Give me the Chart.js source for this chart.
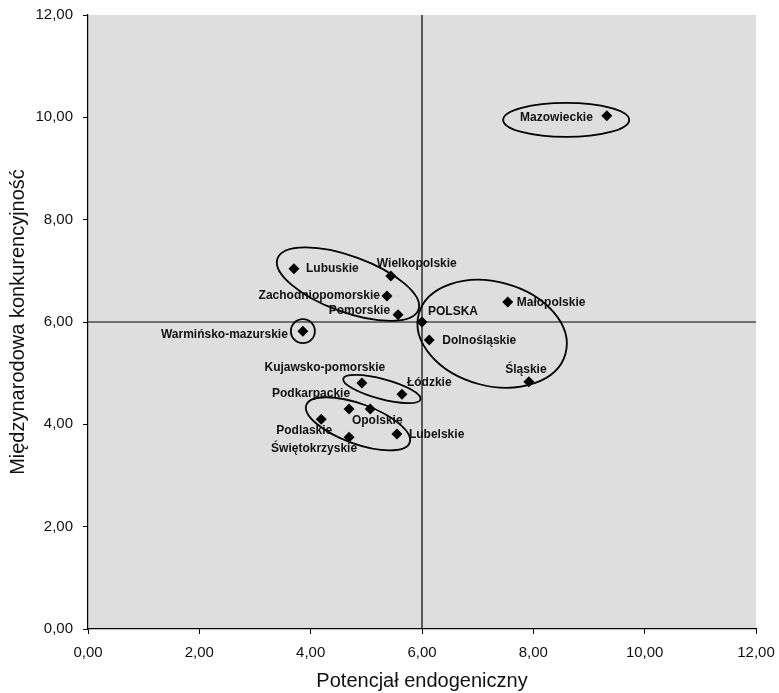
<!DOCTYPE html>
<html><head><meta charset="utf-8">
<script src="https://cdn.jsdelivr.net/npm/chart.js@4/dist/chart.umd.min.js"></script>
<style>html,body{margin:0;padding:0;background:#fff}#c{display:block}</style>
</head><body>
<canvas id="c" width="779" height="693"></canvas>
<script>
// ---- data ----
const regions = ['Mazowieckie','Lubuskie','Wielkopolskie','Zachodniopomorskie','Pomorskie','Warmińsko-mazurskie','POLSKA','Dolnośląskie','Małopolskie','Śląskie','Kujawsko-pomorskie','Łódzkie','Podkarpackie','Opolskie','Podlaskie','Świętokrzyskie','Lubelskie'];
const potencjalEndogeniczny = [9.32, 3.70, 5.44, 5.37, 5.57, 3.86, 6.00, 6.13, 7.54, 7.92, 4.92, 5.64, 4.69, 5.07, 4.19, 4.69, 5.55];
const konkurencyjnosc = [10.03, 7.04, 6.90, 6.51, 6.14, 5.82, 6.00, 5.65, 6.39, 4.83, 4.81, 4.59, 4.30, 4.30, 4.10, 3.75, 3.81];
const axisTicks = [0, 2, 4, 6, 8, 10, 12];
const dividerX = 6.00;
const dividerY = 6.00;

// ---- styles (label placement, group ellipses) ----
const labelPlacement = [
  {align:'right', dx:-14, dy:2},   // Mazowieckie
  {align:'left',  dx:12,  dy:0},   // Lubuskie
  {align:'left',  dx:-14, dy:-12}, // Wielkopolskie
  {align:'right', dx:-7,  dy:0},   // Zachodniopomorskie
  {align:'right', dx:-8,  dy:-4},  // Pomorskie
  {align:'right', dx:-15, dy:3},   // Warmińsko-mazurskie
  {align:'left',  dx:6,   dy:-10}, // POLSKA
  {align:'left',  dx:13,  dy:1},   // Dolnośląskie
  {align:'left',  dx:9,   dy:1},   // Małopolskie
  {align:'center',dx:-3,  dy:-12}, // Śląskie
  {align:'center',dx:-37, dy:-15}, // Kujawsko-pomorskie
  {align:'left',  dx:5,   dy:-11}, // Łódzkie
  {align:'right', dx:1,   dy:-15}, // Podkarpackie
  {align:'center',dx:7,   dy:12},  // Opolskie
  {align:'right', dx:11,  dy:11},  // Podlaskie
  {align:'center',dx:-35, dy:12},  // Świętokrzyskie
  {align:'left',  dx:12,  dy:1}    // Lubelskie
];
const groupEllipses = [
  {cx:8.59, cy:9.95, a:63, b:17, rot:0},
  {cx:4.67, cy:6.74, a:75, b:28, rot:20},
  {cx:3.86, cy:5.82, a:12, b:12, rot:0},
  {cx:7.26, cy:5.77, a:76, b:52, rot:15},
  {cx:5.28, cy:4.69, a:40, b:10, rot:15},
  {cx:4.85, cy:4.01, a:55, b:20, rot:20}
];

const fmt = v => Number(v).toFixed(2).replace('.', ',');
const FONT = "'Liberation Sans', Arial, sans-serif";

const bgPlugin = {
  id:'bg',
  beforeDraw(chart){
    const {ctx, chartArea:ca} = chart;
    ctx.save();
    ctx.fillStyle = '#dedede';
    ctx.fillRect(ca.left, ca.top, ca.right-ca.left, ca.bottom-ca.top);
    ctx.restore();
  },
  beforeDatasetsDraw(chart){
    const {ctx, chartArea:ca, scales} = chart;
    const px = scales.x.getPixelForValue(dividerX);
    const py = scales.y.getPixelForValue(dividerY);
    ctx.save();
    ctx.strokeStyle = '#000'; ctx.lineWidth = 1.2;
    ctx.beginPath();
    ctx.moveTo(px, ca.top); ctx.lineTo(px, ca.bottom);
    ctx.moveTo(ca.left, py); ctx.lineTo(ca.right, py);
    ctx.stroke();
    ctx.restore();
  },
  afterDatasetsDraw(chart){
    const {ctx, scales} = chart;
    ctx.save();
    ctx.strokeStyle = '#000'; ctx.lineWidth = 1.8;
    groupEllipses.forEach(e => {
      const x = scales.x.getPixelForValue(e.cx), y = scales.y.getPixelForValue(e.cy);
      ctx.beginPath();
      ctx.ellipse(x, y, e.a, e.b, e.rot*Math.PI/180, 0, Math.PI*2);
      ctx.stroke();
    });
    ctx.fillStyle = '#111';
    ctx.font = 'bold 12px ' + FONT;
    ctx.textBaseline = 'middle';
    regions.forEach((name, i) => {
      const x = scales.x.getPixelForValue(potencjalEndogeniczny[i]);
      const y = scales.y.getPixelForValue(konkurencyjnosc[i]);
      const p = labelPlacement[i];
      ctx.textAlign = p.align;
      ctx.fillText(name, x + p.dx, y + p.dy);
    });
    ctx.restore();
  }
};

new Chart(document.getElementById('c'), {
  type:'scatter',
  data:{
    datasets:[{
      label:'Województwa',
      data: regions.map((r,i) => ({x:potencjalEndogeniczny[i], y:konkurencyjnosc[i]})),
      pointStyle:'rectRot',
      pointRadius:5.5,
      pointHoverRadius:5.5,
      backgroundColor:'#000',
      borderColor:'#000',
      borderWidth:0
    }]
  },
  options:{
    responsive:false,
    animation:false,
    layout:{autoPadding:false, padding:{left:6, right:23, top:15, bottom:0}},
    plugins:{legend:{display:false}, tooltip:{enabled:false}},
    scales:{
      x:{
        type:'linear', min:axisTicks[0], max:axisTicks[axisTicks.length-1],
        afterBuildTicks(s){ s.ticks = axisTicks.map(v => ({value:v})); },
        afterFit(s){ s.height = 64; s.paddingLeft = 0; s.paddingRight = 0; },
        ticks:{callback:fmt, color:'#111', font:{family:FONT, size:15}, padding:10, maxRotation:0},
        grid:{drawOnChartArea:false, drawTicks:true, tickLength:5, color:'#000'},
        border:{color:'#000', width:1.2},
        title:{display:true, text:'Potencjał endogeniczny', color:'#111', font:{family:FONT, size:20}, padding:{top:0, bottom:0}}
      },
      y:{
        type:'linear', min:axisTicks[0], max:axisTicks[axisTicks.length-1],
        afterBuildTicks(s){ s.ticks = axisTicks.map(v => ({value:v})); },
        afterFit(s){ s.width = 82; s.paddingTop = 0; s.paddingBottom = 0; },
        ticks:{callback:fmt, color:'#111', font:{family:FONT, size:15}, padding:10},
        grid:{drawOnChartArea:false, drawTicks:true, tickLength:5, color:'#000'},
        border:{color:'#000', width:1.2},
        title:{display:true, text:'Międzynarodowa konkurencyjność', color:'#111', font:{family:FONT, size:20}, padding:{top:0, bottom:0}}
      }
    }
  },
  plugins:[bgPlugin]
});
</script>
</body></html>
